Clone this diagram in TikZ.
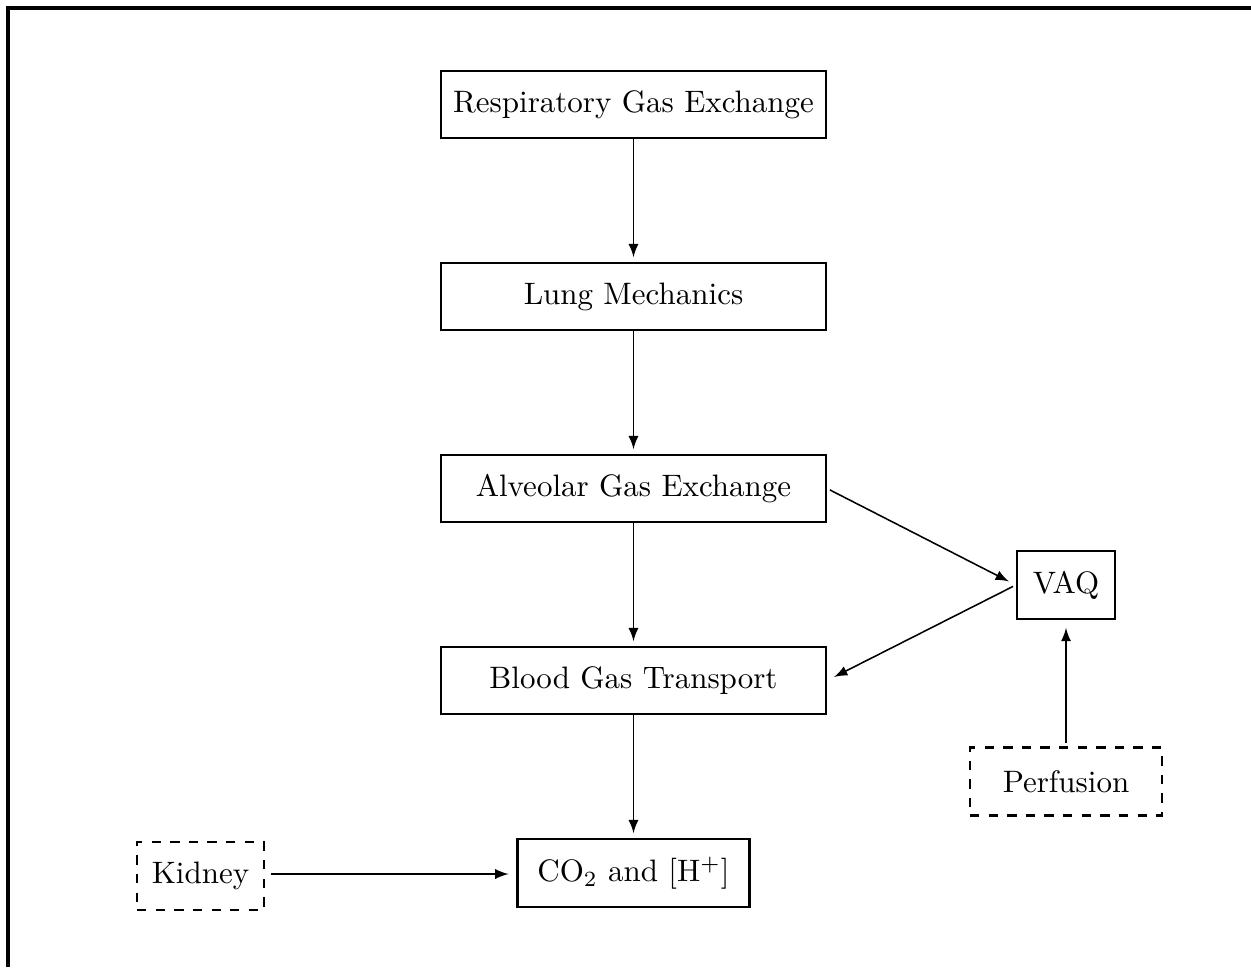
\documentclass[tikz,border=0pt]{standalone}
\usetikzlibrary{arrows}
\begin{document}
\begin{tikzpicture}[x=0.3224pt, y=-0.3224pt,
  box/.style={draw, line width=0.75pt, minimum width=124.1pt, minimum height=21.6pt, inner sep=0pt},
  smallbox/.style={draw, line width=0.75pt, minimum height=21.9pt, inner sep=0pt},
  extbox/.style={smallbox, dashed},
  link/.style={-latex, line width=0.5pt, shorten >=1.5pt},
  farlink/.style={-latex, line width=0.5pt, shorten >=2.5pt, shorten <=1pt}]
  \useasboundingbox (0,0) rectangle (1251,967);
  % frame of the page
  \draw[line width=1pt] (8,967) -- (8,8) -- (1251,8);
  % main chain
  \node[box] (rge) at (633.5,104.5) {Respiratory Gas Exchange};
  \node[box] (lm)  at (633.5,296.5) {Lung Mechanics};
  \node[box] (age) at (633.5,488.5) {Alveolar Gas Exchange};
  \node[box] (bgt) at (633.5,680.5) {Blood Gas Transport};
  \node[smallbox, minimum width=74.8pt] (co2) at (633.5,873) {CO$_2$ and [H$^+$]};
  % side blocks
  \node[smallbox, minimum width=31.6pt] (vaq) at (1066,585) {VAQ};
  \node[extbox, minimum width=61.9pt] (perf) at (1066,781.5) {Perfusion};
  \node[extbox, minimum width=40.9pt] (kid) at (200.5,876) {Kidney};
  \coordinate (kidin) at (co2.west |- 0,874);
  \coordinate (kidout) at (kid.east |- 0,874);
  % connectors
  \draw[link] (rge) -- (lm);
  \draw[link] (lm) -- (age);
  \draw[link] (age) -- (bgt);
  \draw[link] (bgt) -- (co2);
  \draw[farlink] (age.east) -- (vaq.west);
  \draw[farlink] (vaq.west) -- (bgt.east);
  \draw[farlink] (perf.north) -- (vaq.south);
  \draw[farlink, shorten <=2pt] (kidout) -- (kidin);
\end{tikzpicture}
\end{document}
